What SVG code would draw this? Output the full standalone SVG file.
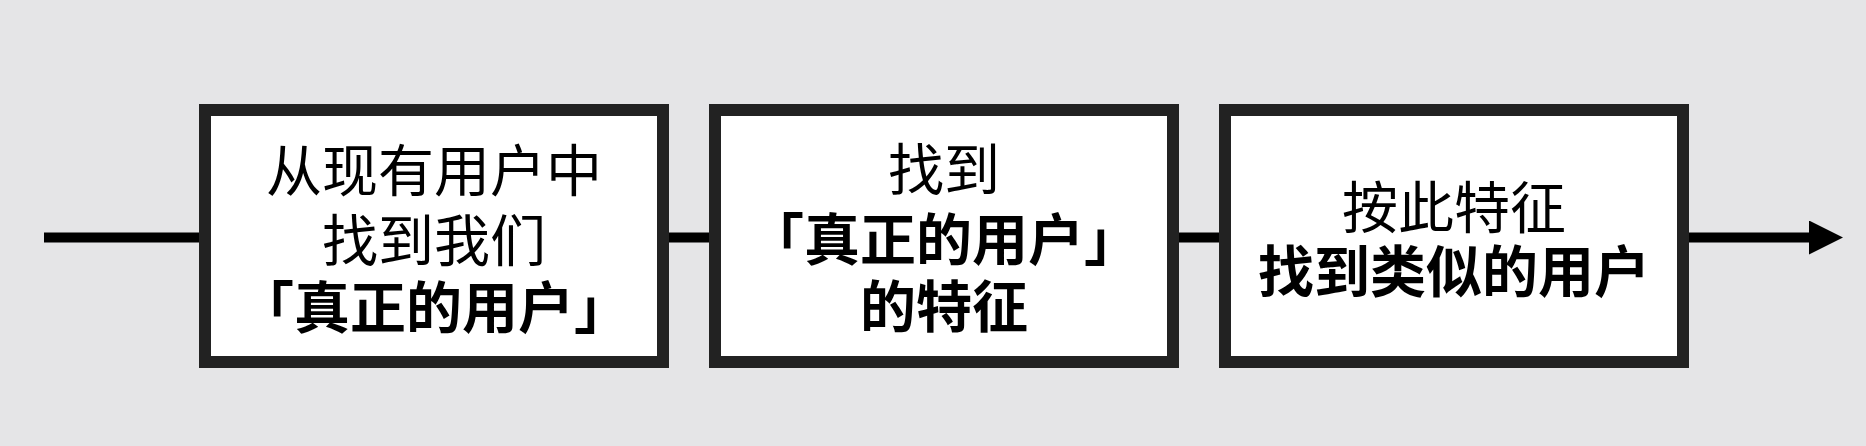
<svg xmlns="http://www.w3.org/2000/svg" width="1866" height="446" viewBox="0 0 1866 446">
  <style>
    .bg { fill: #e5e5e7; }
    .box { fill: #ffffff; stroke: #222222; stroke-width: 12; }
    .conn { stroke: #000000; stroke-width: 10; fill: none; }
    .t { font-family: "Noto Sans CJK SC", "Noto Sans CJK JP", sans-serif; font-size: 56px; fill: #000000; text-anchor: middle; }
    .r { font-weight: 400; }
    .b { font-weight: 700; }
  </style>
  <defs>
    <marker id="arrow" viewBox="0 0 34 34" refX="1" refY="17" markerWidth="34" markerHeight="34" markerUnits="userSpaceOnUse" orient="auto">
      <path d="M0,0 L34,17 L0,34 z" fill="#000000"/>
    </marker>
  </defs>
  <rect class="bg" x="0" y="0" width="1866" height="446"/>
  <g id="connectors">
    <line class="conn" x1="44" y1="237.5" x2="200" y2="237.5"/>
    <line class="conn" x1="668" y1="237.5" x2="710" y2="237.5"/>
    <line class="conn" x1="1178" y1="237.5" x2="1220" y2="237.5"/>
    <line class="conn" x1="1688" y1="237.5" x2="1810" y2="237.5" marker-end="url(#arrow)"/>
  </g>
  <g id="node1">
    <rect class="box" x="205" y="110" width="458" height="252"/>
    <text class="t r" x="434" y="191">从现有用户中</text>
    <text class="t r" x="434" y="261">找到我们</text>
    <text class="t b" x="434" y="328">「真正的用户」</text>
  </g>
  <g id="node2">
    <rect class="box" x="715" y="110" width="458" height="252"/>
    <text class="t r" x="944" y="190">找到</text>
    <text class="t b" x="944" y="260">「真正的用户」</text>
    <text class="t b" x="944" y="327">的特征</text>
  </g>
  <g id="node3">
    <rect class="box" x="1225" y="110" width="458" height="252"/>
    <text class="t r" x="1454" y="228">按此特征</text>
    <text class="t b" x="1454" y="292">找到类似的用户</text>
  </g>
</svg>
